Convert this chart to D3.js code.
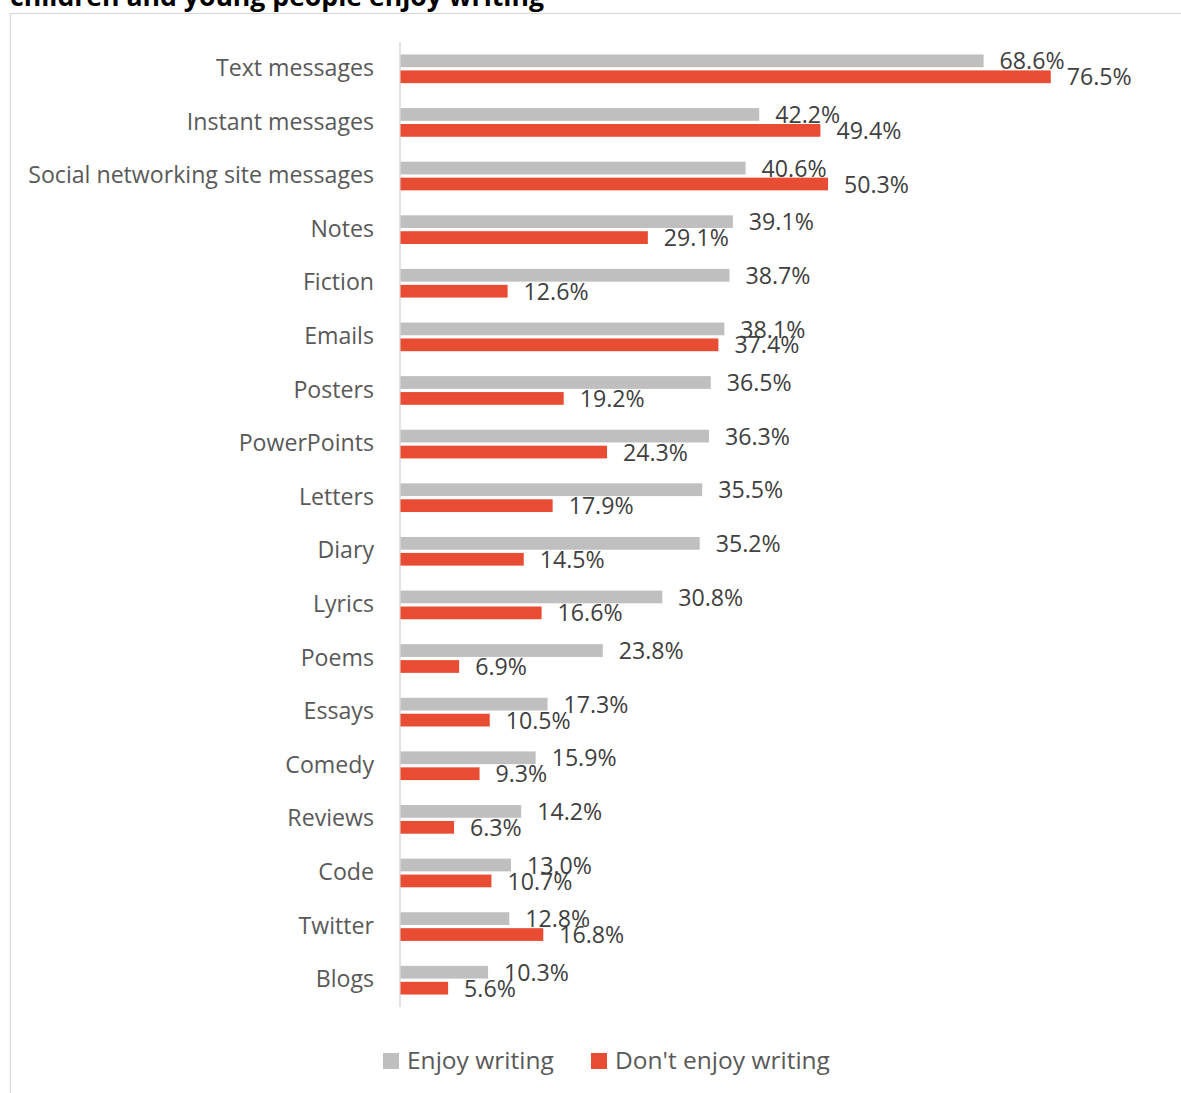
<!DOCTYPE html>
<html>
<head>
<meta charset="utf-8">
<script src="https://cdn.jsdelivr.net/npm/d3@7"></script>
<style>
  html, body { margin: 0; padding: 0; background: #fff; overflow: hidden; }
  svg { display: block; font-family: "Open Sans", "Noto Sans", sans-serif; }
</style>
</head>
<body>
<svg id="chart" width="1181" height="1093"></svg>
<script>
// Writing formats, ordered as listed in the chart
const categories = [
  "Text messages", "Instant messages", "Social networking site messages", "Notes",
  "Fiction", "Emails", "Posters", "PowerPoints", "Letters", "Diary", "Lyrics",
  "Poems", "Essays", "Comedy", "Reviews", "Code", "Twitter", "Blogs"
];
// Percentage of young people writing each format
const enjoyWriting = [68.6, 42.2, 40.6, 39.1, 38.7, 38.1, 36.5, 36.3, 35.5, 35.2, 30.8, 23.8, 17.3, 15.9, 14.2, 13.0, 12.8, 10.3];
const dontEnjoyWriting = [76.5, 49.4, 50.3, 29.1, 12.6, 37.4, 19.2, 24.3, 17.9, 14.5, 16.6, 6.9, 10.5, 9.3, 6.3, 10.7, 16.8, 5.6];
const seriesNames = ["Enjoy writing", "Don't enjoy writing"];
const seriesColors = ["#BFBFBF", "#E84C33"];
const titleText = "children and young people enjoy writing";

const svg = d3.select("#chart");

// Shrink/grow a text's font size so its rendered width hits a target
function fitSize(text, weight, target, base) {
  const t = svg.append("text").attr("font-size", base).attr("font-weight", weight).text(text);
  const w = t.node().getComputedTextLength();
  t.remove();
  return base * target / w;
}

const labelSize = fitSize("Social networking site messages", 400, 346, 20);
const valueSize = fitSize("76.5%", 400, 65, 20);
const legendSize = fitSize("Don't enjoy writing", 400, 215, 20);
const titleSize = fitSize(titleText, 700, 534, 24);

// Outer frame of the chart area
svg.append("rect")
  .attr("x", 10.5).attr("y", 13.5)
  .attr("width", 1200).attr("height", 1120)
  .attr("fill", "none").attr("stroke", "#D9D9D9").attr("stroke-width", 1.2);

// Title (runs off the top edge)
svg.append("text")
  .attr("x", 10).attr("y", 5.5)
  .attr("font-size", titleSize).attr("font-weight", 700)
  .attr("fill", "#000")
  .text(titleText);

// Scales
const x = d3.scaleLinear().domain([0, 80]).range([400.5, 400.5 + 680]);
const y = d3.scaleBand().domain(categories).range([42, 1007]).paddingInner(0.465).paddingOuter(0.2325);
const ySub = d3.scaleBand().domain(seriesNames).range([0, y.bandwidth()]).paddingInner(0.2);

const rows = categories.map((c, i) => ({ cat: c, vals: [enjoyWriting[i], dontEnjoyWriting[i]] }));

// Category axis
const yAxis = d3.axisLeft(y).tickSize(0).tickPadding(26);
const gAxis = svg.append("g").attr("transform", `translate(400,0)`).call(yAxis);
gAxis.select(".domain").attr("stroke", "#D9D9D9").attr("stroke-width", 1.5)
  .attr("d", `M0,42V1007`);
gAxis.selectAll(".tick text")
  .attr("font-family", "'Open Sans', 'Noto Sans', sans-serif")
  .attr("font-size", labelSize)
  .attr("fill", "#595959")
  .attr("y", -1)
  .attr("dy", "0.35em");

// Bars
const groups = svg.append("g").selectAll("g.row").data(rows).join("g")
  .attr("class", "row")
  .attr("transform", d => `translate(0,${y(d.cat)})`);

groups.selectAll("rect").data(d => d.vals.map((v, k) => ({ v, k }))).join("rect")
  .attr("x", x(0))
  .attr("y", d => ySub(seriesNames[d.k]))
  .attr("width", d => x(d.v) - x(0))
  .attr("height", ySub.bandwidth())
  .attr("fill", d => seriesColors[d.k]);

// Value labels
groups.selectAll("text.val").data(d => d.vals.map((v, k) => ({ v, k }))).join("text")
  .attr("class", "val")
  .attr("x", d => x(d.v) + 16)
  .attr("y", d => ySub(seriesNames[d.k]) + ySub.bandwidth() / 2 + 0.5)
  .attr("dy", "0.35em")
  .attr("font-size", valueSize)
  .attr("fill", "#404040")
  .text(d => d.v.toFixed(1) + "%");

// Legend
const legendX = [383, 591];
const legend = svg.append("g").selectAll("g").data(seriesNames).join("g")
  .attr("transform", (d, i) => `translate(${legendX[i]},1053)`);
legend.append("rect").attr("width", 16).attr("height", 16)
  .attr("fill", (d, i) => seriesColors[i]);
legend.append("text")
  .attr("x", 24).attr("y", 7.5).attr("dy", "0.35em")
  .attr("font-size", legendSize).attr("fill", "#595959")
  .text(d => d);
</script>
</body>
</html>
